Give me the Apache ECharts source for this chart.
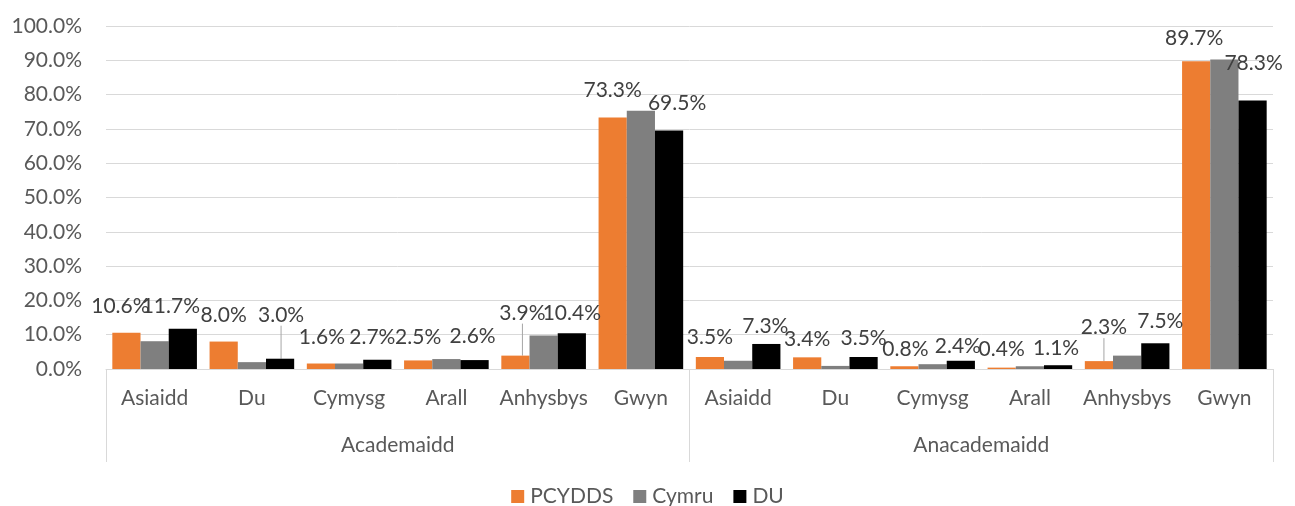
<!DOCTYPE html>
<html>
<head>
<meta charset="utf-8">
<script src="https://cdn.jsdelivr.net/npm/echarts@6/dist/echarts.min.js"></script>
<style>
html,body{margin:0;padding:0;background:#fff;}
#chart{width:1295px;height:506px;}
</style>
</head>
<body>
<div id="chart"></div>
<script>
// ---- data ----
const categories = ['Asiaidd','Du','Cymysg','Arall','Anhysbys','Gwyn','Asiaidd','Du','Cymysg','Arall','Anhysbys','Gwyn'];
const groups = ['Academaidd','Anacademaidd'];
const seriesNames = ['PCYDDS','Cymru','DU'];
const pcydds = [10.6, 8.0, 1.6, 2.5, 3.9, 73.3, 3.5, 3.4, 0.8, 0.4, 2.3, 89.7];
const cymru  = [8.1, 2.0, 1.6, 2.9, 9.8, 75.3, 2.4, 0.9, 1.4, 0.8, 3.9, 90.2];
const du     = [11.7, 3.0, 2.7, 2.6, 10.4, 69.5, 7.3, 3.5, 2.4, 1.1, 7.5, 78.3];

// ---- label placement (styling only) ----
const labelShift = {
  0: {dx:[-6,0,1,0,7,0, 0,0,1,0,5,-2], dy:[-11,-11,-11,-8,-27,-12, -4,-3,-2,-3,-18,-8], line:[0,0,0,0,1,0, 0,0,0,0,1,0]},
  2: {dx:[-12,1,-5,-2,0,8, -1,0,-3,-2,5,1], dy:[-7,-28,-7,-8,-5,-12, -2,-3,1,-1,-7,-22], line:[0,1,0,0,0,0, 0,0,0,0,0,0]}
};

const FONT = 'Lato, "Noto Sans", sans-serif';
const FS = 21;
const chart = echarts.init(document.getElementById('chart'));

function buildData(values, sIdx){
  return values.map((v,i)=>{
    const item = {value:v};
    if (labelShift[sIdx] && labelShift[sIdx].line[i]) {
      item.labelLine = {show:true, lineStyle:{color:'#a6a6a6', width:1}};
    }
    return item;
  });
}

const labelCfg = {show:true, position:'top', distance:5, color:'#404040', fontSize:FS, fontFamily:FONT,
  formatter: p => p.value.toFixed(1) + '%'};

chart.setOption({
  animation:false,
  textStyle:{fontFamily:FONT},
  grid:{left:106, right:22, top:26, bottom:137, containLabel:false},
  legend:{
    data:seriesNames, top:481, left:'center', icon:'rect', itemWidth:13, itemHeight:13, itemGap:20,
    textStyle:{color:'#595959', fontSize:FS, fontFamily:FONT, padding:[0,0,0,1]}
  },
  xAxis:[
    {type:'category', data:categories, position:'bottom',
     axisLine:{show:true, lineStyle:{color:'#d9d9d9', width:1}},
     axisTick:{show:false},
     axisLabel:{color:'#595959', fontSize:FS, fontFamily:FONT, margin:19, interval:0}},
    {type:'category', data:groups, position:'bottom', gridIndex:0,
     axisLine:{show:false},
     axisTick:{show:true, length:93, lineStyle:{color:'#d9d9d9', width:1}},
     axisLabel:{color:'#595959', fontSize:FS, fontFamily:FONT, margin:66, interval:0}}
  ],
  yAxis:{type:'value', min:0, max:100, interval:10,
    axisLine:{show:false}, axisTick:{show:false},
    splitLine:{lineStyle:{color:'#d9d9d9', width:1}},
    axisLabel:{color:'#595959', fontSize:FS, fontFamily:FONT, margin:24, formatter: v => v.toFixed(1)+'%'}},
  labelLayout: function(p){
    const s = labelShift[p.seriesIndex];
    if (!s) return {};
    return {dx:s.dx[p.dataIndex], dy:s.dy[p.dataIndex]};
  },
  series:[
    {name:seriesNames[0], type:'bar', data:buildData(pcydds,0), itemStyle:{color:'#ED7D31'},
     barGap:'0%', barCategoryGap:'13%', label:labelCfg, labelLine:{show:false}},
    {name:seriesNames[1], type:'bar', data:buildData(cymru,1), itemStyle:{color:'#7F7F7F'},
     barGap:'0%', barCategoryGap:'13%', label:{show:false}},
    {name:seriesNames[2], type:'bar', data:buildData(du,2), itemStyle:{color:'#000000'},
     barGap:'0%', barCategoryGap:'13%', label:labelCfg, labelLine:{show:false}}
  ]
});
</script>
</body>
</html>
